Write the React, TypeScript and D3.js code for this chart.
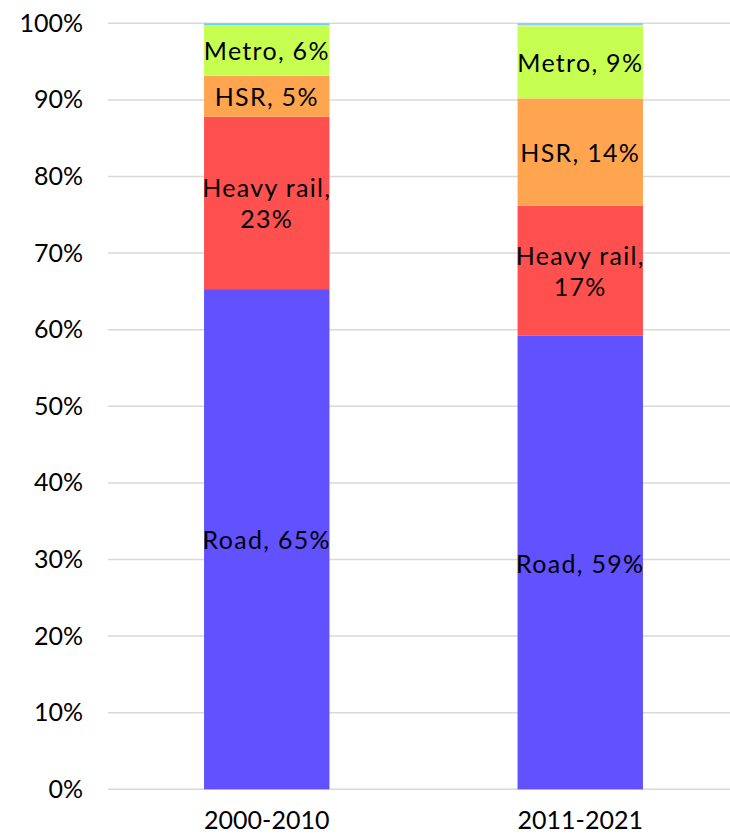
import React, { useEffect, useRef } from 'react'
import { select, scaleBand, scaleLinear, stack, axisLeft, axisBottom } from 'd3'

// periods on the x axis
const periods = ['2000-2010', '2011-2021']
// series, bottom to top
const seriesNames = ['Road', 'Heavy rail', 'HSR', 'Metro', 'Other', 'Other2']
const road = [65.3, 59.2]
const heavyRail = [22.5, 17.0]
const hsr = [5.35, 14.0]
const metro = [6.6, 9.4]
const other = [0, 0.2]
const other2 = [0.25, 0.2]
// labels as printed on the bars
const labelLines: (string[] | null)[][] = [
  [['Road, 65%'], ['Heavy rail,', '23%'], ['HSR, 5%'], ['Metro, 6%'], null, null],
  [['Road, 59%'], ['Heavy rail,', '17%'], ['HSR, 14%'], ['Metro, 9%'], null, null],
]
const yTicks = [0, 10, 20, 30, 40, 50, 60, 70, 80, 90, 100]
const colors = ['#6151FF', '#FF5050', '#FFA54F', '#C7FF50', '#FFE36B', '#6AD0F5']

const FONT = 'Lato, "Open Sans", sans-serif'

function App() {
  const ref = useRef<SVGSVGElement>(null)
  const width = 730
  const height = 834

  useEffect(() => {
    const svg = select(ref.current)
    svg.selectAll('*').remove()

    const rows = periods.map((p, i) => ({
      period: p,
      Road: road[i],
      'Heavy rail': heavyRail[i],
      HSR: hsr[i],
      Metro: metro[i],
      Other: other[i],
      Other2: other2[i],
    }))

    const x = scaleBand().domain(periods).range([110, 737]).paddingInner(0.6).paddingOuter(0.3)
    const y = scaleLinear().domain([0, 100]).range([789.3, 23.3])

    // gridlines
    svg.append('g')
      .selectAll('line')
      .data(yTicks)
      .join('line')
      .attr('x1', 108)
      .attr('x2', width)
      .attr('y1', d => y(d))
      .attr('y2', d => y(d))
      .attr('stroke', '#d9d9d9')
      .attr('stroke-width', 1.5)

    const yAxis = svg.append('g')
      .attr('transform', 'translate(108,0)')
      .call(axisLeft(y).tickValues(yTicks).tickFormat(d => `${d}%`).tickSize(0).tickPadding(25))
    yAxis.select('.domain').remove()
    yAxis.selectAll('text')
      .attr('font-family', FONT)
      .attr('font-size', 25)
      .attr('fill', '#000')

    const series = stack<any>().keys(seriesNames)(rows)

    svg.append('g')
      .selectAll('g')
      .data(series)
      .join('g')
      .attr('fill', (_, i) => colors[i])
      .selectAll('rect')
      .data(d => d)
      .join('rect')
      .attr('x', d => x(d.data.period)!)
      .attr('width', x.bandwidth())
      .attr('y', d => y(d[1]))
      .attr('height', d => y(d[0]) - y(d[1]))

    // bar labels
    series.forEach((s, si) => {
      s.forEach((d, pi) => {
        const lines = labelLines[pi][si]
        if (!lines) return
        const cx = x(d.data.period)! + x.bandwidth() / 2
        const cy = y((d[0] + d[1]) / 2)
        const lh = 31
        const t = svg.append('text')
          .attr('x', cx)
          .attr('y', cy - ((lines.length - 1) * lh) / 2)
          .attr('text-anchor', 'middle')
          .attr('dominant-baseline', 'central')
          .attr('font-family', FONT)
          .attr('font-size', 25)
          .attr('letter-spacing', 1.3)
          .attr('fill', '#000')
        lines.forEach((ln, li) => {
          t.append('tspan').attr('x', cx).attr('dy', li === 0 ? 0 : lh).text(ln)
        })
      })
    })

    // x axis
    const xAxis = svg.append('g')
      .attr('transform', 'translate(0,789.3)')
      .call(axisBottom(x).tickSize(0).tickPadding(22))
    xAxis.select('.domain').remove()
    xAxis.selectAll('text')
      .attr('font-family', FONT)
      .attr('font-size', 25)
      .attr('fill', '#000')
  }, [])

  return (
    <svg ref={ref} width={width} height={height}
      style={{ position: 'absolute', left: 0, top: 0, background: '#fff' }} />
  )
}

export default App
